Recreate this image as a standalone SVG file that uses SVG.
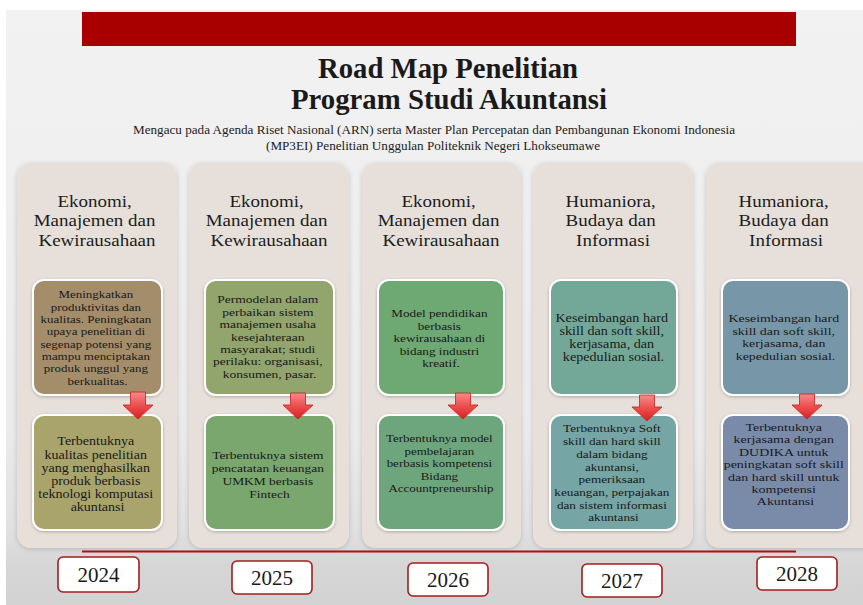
<svg xmlns="http://www.w3.org/2000/svg" width="863" height="605" viewBox="0 0 863 605">
  <defs>
    <linearGradient id="slideBg" x1="0" y1="0" x2="0" y2="1">
      <stop offset="0" stop-color="#f2f2f2"/>
      <stop offset="0.7" stop-color="#ebebeb"/>
      <stop offset="0.88" stop-color="#e0e0e0"/>
      <stop offset="0.93" stop-color="#d6d6d6"/>
      <stop offset="1" stop-color="#d2d2d2"/>
    </linearGradient>
    <linearGradient id="arrowFill" x1="0" y1="0" x2="0" y2="1">
      <stop offset="0" stop-color="#f58a8a"/>
      <stop offset="0.5" stop-color="#ec4f4f"/>
      <stop offset="1" stop-color="#d92020"/>
    </linearGradient>
    <filter id="colShadow" x="-10%" y="-5%" width="120%" height="110%">
      <feGaussianBlur in="SourceAlpha" stdDeviation="2.5"/>
      <feOffset dx="0" dy="1" result="b"/>
      <feFlood flood-color="#000" flood-opacity="0.18"/>
      <feComposite in2="b" operator="in"/>
      <feMerge><feMergeNode/><feMergeNode in="SourceGraphic"/></feMerge>
    </filter>
    <filter id="boxShadow" x="-10%" y="-10%" width="120%" height="120%">
      <feGaussianBlur in="SourceAlpha" stdDeviation="1.5"/>
      <feOffset dx="0" dy="1" result="b"/>
      <feFlood flood-color="#000" flood-opacity="0.25"/>
      <feComposite in2="b" operator="in"/>
      <feMerge><feMergeNode/><feMergeNode in="SourceGraphic"/></feMerge>
    </filter>
    <style>
      .col { fill: #e7e0da; }
      .box { stroke: #ffffff; stroke-width: 2; }
      .head { font-family: "Liberation Serif", serif; font-size: 17.5px; fill: #1c1c1c; text-anchor: middle; }
      .txt { font-family: "Liberation Serif", serif; fill: #1a1a1a; text-anchor: middle; }
      .year { fill: #ffffff; stroke: #a51c1c; stroke-width: 1.6; }
      .ytxt { font-family: "Liberation Serif", serif; font-size: 21px; fill: #1a1a1a; text-anchor: middle; }
      .arrow { fill: url(#arrowFill); stroke: #c42020; stroke-width: 0.8; }
    </style>
  </defs>

  <!-- page and slide background -->
  <rect x="0" y="0" width="863" height="605" fill="#ffffff"/>
  <rect x="6" y="10" width="857" height="595" fill="url(#slideBg)"/>

  <!-- header -->
  <g id="header">
    <rect x="82" y="12" width="714" height="34" fill="#a80000"/>
    <text x="448" y="78" font-family="Liberation Serif, serif" font-weight="bold" font-size="30" fill="#1a1a1a" text-anchor="middle" textLength="260" lengthAdjust="spacingAndGlyphs">Road Map Penelitian</text>
    <text x="449" y="109" font-family="Liberation Serif, serif" font-weight="bold" font-size="30" fill="#1a1a1a" text-anchor="middle" textLength="316" lengthAdjust="spacingAndGlyphs">Program Studi Akuntansi</text>
    <text x="434" y="134" font-family="Liberation Serif, serif" font-size="12" fill="#222" text-anchor="middle" textLength="602" lengthAdjust="spacingAndGlyphs">Mengacu pada Agenda Riset Nasional (ARN) serta Master Plan Percepatan dan Pembangunan Ekonomi Indonesia</text>
    <text x="433" y="150" font-family="Liberation Serif, serif" font-size="12" fill="#222" text-anchor="middle" textLength="334" lengthAdjust="spacingAndGlyphs">(MP3EI) Penelitian Unggulan Politeknik Negeri Lhokseumawe</text>
  </g>

  <!-- 2024 -->
  <g id="col-2024">
    <rect class="col" x="17" y="163" width="160" height="385" rx="14" filter="url(#colShadow)"/>
    <text class="head" transform="translate(97 0) scale(1.086 1)">
      <tspan x="0" y="207">Ekonomi,</tspan>
      <tspan x="0" y="226.5">Manajemen dan</tspan>
      <tspan x="0" y="246">Kewirausahaan</tspan>
    </text>
    <rect class="box" x="33" y="280" width="129" height="115" rx="11" fill="#a48d6b" filter="url(#boxShadow)"/>
    <text class="txt" font-size="10.8" transform="translate(97.5 0) scale(1.2 1)">
      <tspan x="0" y="298.5">Meningkatkan</tspan>
      <tspan x="0" y="310.8">produktivitas dan</tspan>
      <tspan x="0" y="323.1">kualitas. Peningkatan</tspan>
      <tspan x="0" y="335.4">upaya penelitian di</tspan>
      <tspan x="0" y="347.7">segenap potensi yang</tspan>
      <tspan x="0" y="360">mampu menciptakan</tspan>
      <tspan x="0" y="372.3">produk unggul yang</tspan>
      <tspan x="0" y="384.6">berkualitas.</tspan>
    </text>
    <rect class="box" x="33" y="415" width="129" height="115" rx="11" fill="#a9a46c" filter="url(#boxShadow)"/>
    <text class="txt" font-size="11.7" transform="translate(97.5 0) scale(1.2 1)">
      <tspan x="0" y="445.5">Terbentuknya</tspan>
      <tspan x="0" y="458.7">kualitas penelitian</tspan>
      <tspan x="0" y="471.9">yang menghasilkan</tspan>
      <tspan x="0" y="485.1">produk berbasis</tspan>
      <tspan x="0" y="498.3">teknologi komputasi</tspan>
      <tspan x="0" y="511.5">akuntansi</tspan>
    </text>
  </g>

  <!-- 2025 -->
  <g id="col-2025">
    <rect class="col" x="189" y="163" width="160" height="385" rx="14" filter="url(#colShadow)"/>
    <text class="head" transform="translate(269 0) scale(1.086 1)">
      <tspan x="0" y="207">Ekonomi,</tspan>
      <tspan x="0" y="226.5">Manajemen dan</tspan>
      <tspan x="0" y="246">Kewirausahaan</tspan>
    </text>
    <rect class="box" x="205" y="280" width="129" height="115" rx="11" fill="#91a56c" filter="url(#boxShadow)"/>
    <text class="txt" font-size="11.1" transform="translate(269.5 0) scale(1.22 1)">
      <tspan x="0" y="303.5">Permodelan dalam</tspan>
      <tspan x="0" y="315.9">perbaikan sistem</tspan>
      <tspan x="0" y="328.3">manajemen usaha</tspan>
      <tspan x="0" y="340.7">kesejahteraan</tspan>
      <tspan x="0" y="353.1">masyarakat; studi</tspan>
      <tspan x="0" y="365.5">perilaku: organisasi,</tspan>
      <tspan x="0" y="377.9">konsumen, pasar.</tspan>
    </text>
    <rect class="box" x="205" y="415" width="129" height="115" rx="11" fill="#79a76e" filter="url(#boxShadow)"/>
    <text class="txt" font-size="11.4" transform="translate(269.5 0) scale(1.18 1)">
      <tspan x="0" y="459.5">Terbentuknya sistem</tspan>
      <tspan x="0" y="472.5">pencatatan keuangan</tspan>
      <tspan x="0" y="485.5">UMKM berbasis</tspan>
      <tspan x="0" y="498.5">Fintech</tspan>
    </text>
  </g>

  <!-- 2026 -->
  <g id="col-2026">
    <rect class="col" x="362" y="163" width="159" height="385" rx="14" filter="url(#colShadow)"/>
    <text class="head" transform="translate(441 0) scale(1.086 1)">
      <tspan x="0" y="207">Ekonomi,</tspan>
      <tspan x="0" y="226.5">Manajemen dan</tspan>
      <tspan x="0" y="246">Kewirausahaan</tspan>
    </text>
    <rect class="box" x="378" y="280" width="126" height="115" rx="11" fill="#6ea872" filter="url(#boxShadow)"/>
    <text class="txt" font-size="11" transform="translate(441 0) scale(1.2 1)">
      <tspan x="0" y="317.5">Model pendidikan</tspan>
      <tspan x="0" y="329.9">berbasis</tspan>
      <tspan x="0" y="342.3">kewirausahaan di</tspan>
      <tspan x="0" y="354.7">bidang industri</tspan>
      <tspan x="0" y="367.1">kreatif.</tspan>
    </text>
    <rect class="box" x="378" y="415" width="126" height="115" rx="11" fill="#6da67b" filter="url(#boxShadow)"/>
    <text class="txt" font-size="10.9" transform="translate(441 0) scale(1.19 1)">
      <tspan x="0" y="442.5">Terbentuknya model</tspan>
      <tspan x="0" y="455">pembelajaran</tspan>
      <tspan x="0" y="467.5">berbasis kompetensi</tspan>
      <tspan x="0" y="480">Bidang</tspan>
      <tspan x="0" y="492.5">Accountpreneurship</tspan>
    </text>
  </g>

  <!-- 2027 -->
  <g id="col-2027">
    <rect class="col" x="533" y="163" width="160" height="385" rx="14" filter="url(#colShadow)"/>
    <text class="head" transform="translate(613 0) scale(1.086 1)">
      <tspan x="0" y="207">Humaniora,</tspan>
      <tspan x="0" y="226.5">Budaya dan</tspan>
      <tspan x="0" y="246">Informasi</tspan>
    </text>
    <rect class="box" x="550" y="280" width="127" height="115" rx="11" fill="#73a898" filter="url(#boxShadow)"/>
    <text class="txt" font-size="11.6" transform="translate(613.5 0) scale(1.22 1)">
      <tspan x="0" y="322.5">Keseimbangan hard</tspan>
      <tspan x="0" y="335.5">skill dan soft skill,</tspan>
      <tspan x="0" y="348.5">kerjasama, dan</tspan>
      <tspan x="0" y="361.5">kepedulian sosial.</tspan>
    </text>
    <rect class="box" x="550" y="415" width="127" height="115" rx="11" fill="#74a5a4" filter="url(#boxShadow)"/>
    <text class="txt" font-size="11.1" transform="translate(613.5 0) scale(1.19 1)">
      <tspan x="0" y="432.5">Terbentuknya Soft</tspan>
      <tspan x="0" y="445.2">skill dan hard skill</tspan>
      <tspan x="0" y="457.9">dalam bidang</tspan>
      <tspan x="0" y="470.6">akuntansi,</tspan>
      <tspan x="0" y="483.3">pemeriksaan</tspan>
      <tspan x="0" y="496">keuangan, perpajakan</tspan>
      <tspan x="0" y="508.7">dan sistem informasi</tspan>
      <tspan x="0" y="521.4">akuntansi</tspan>
    </text>
  </g>

  <!-- 2028 -->
  <g id="col-2028">
    <rect class="col" x="706" y="163" width="170" height="385" rx="14" filter="url(#colShadow)"/>
    <text class="head" transform="translate(786 0) scale(1.086 1)">
      <tspan x="0" y="207">Humaniora,</tspan>
      <tspan x="0" y="226.5">Budaya dan</tspan>
      <tspan x="0" y="246">Informasi</tspan>
    </text>
    <rect class="box" x="722" y="280" width="127" height="115" rx="11" fill="#7797a8" filter="url(#boxShadow)"/>
    <text class="txt" font-size="11.2" transform="translate(785.5 0) scale(1.24 1)">
      <tspan x="0" y="322">Keseimbangan hard</tspan>
      <tspan x="0" y="334.6">skill dan soft skill,</tspan>
      <tspan x="0" y="347.2">kerjasama, dan</tspan>
      <tspan x="0" y="359.8">kepedulian sosial.</tspan>
    </text>
    <rect class="box" x="722" y="415" width="127" height="115" rx="11" fill="#7a8baa" filter="url(#boxShadow)"/>
    <text class="txt" font-size="11" transform="translate(785.5 0) scale(1.27 1)">
      <tspan x="0" y="431">Terbentuknya</tspan>
      <tspan x="0" y="443.4">kerjasama dengan</tspan>
      <tspan x="0" y="455.8">DUDIKA untuk</tspan>
      <tspan x="0" y="468.2">peningkatan soft skill</tspan>
      <tspan x="0" y="480.6">dan hard skill untuk</tspan>
      <tspan x="0" y="493">kompetensi</tspan>
      <tspan x="0" y="505.4">Akuntansi</tspan>
    </text>
  </g>

  <!-- connectors: down arrows and timeline -->
  <g id="connectors">
    <polygon class="arrow" points="130.5,392 145.5,392 145.5,405 153,405 138,419 123,405 130.5,405"/>
    <polygon class="arrow" points="290.5,393 305.5,393 305.5,405 313,405 298,419 283,405 290.5,405"/>
    <polygon class="arrow" points="455.5,393 470.5,393 470.5,405 478,405 463,419 448,405 455.5,405"/>
    <polygon class="arrow" points="639.5,395 654.5,395 654.5,407 662,407 647,421 632,407 639.5,407"/>
    <polygon class="arrow" points="799.5,394 814.5,394 814.5,405 822,405 807,419 792,405 799.5,405"/>
    <line x1="82" y1="551.5" x2="796" y2="551.5" stroke="#b01010" stroke-width="2"/>
  </g>

  <!-- year labels -->
  <g id="year-2024"><rect class="year" x="58" y="557" width="81" height="35" rx="5"/><text class="ytxt" x="98.5" y="582">2024</text></g>
  <g id="year-2025"><rect class="year" x="232" y="561" width="80" height="33" rx="5"/><text class="ytxt" x="272" y="585">2025</text></g>
  <g id="year-2026"><rect class="year" x="408" y="563" width="80" height="33" rx="5"/><text class="ytxt" x="448" y="587">2026</text></g>
  <g id="year-2027"><rect class="year" x="582" y="564" width="80" height="33" rx="5"/><text class="ytxt" x="622" y="588">2027</text></g>
  <g id="year-2028"><rect class="year" x="757" y="557" width="80" height="33" rx="5"/><text class="ytxt" x="797" y="581">2028</text></g>
</svg>
